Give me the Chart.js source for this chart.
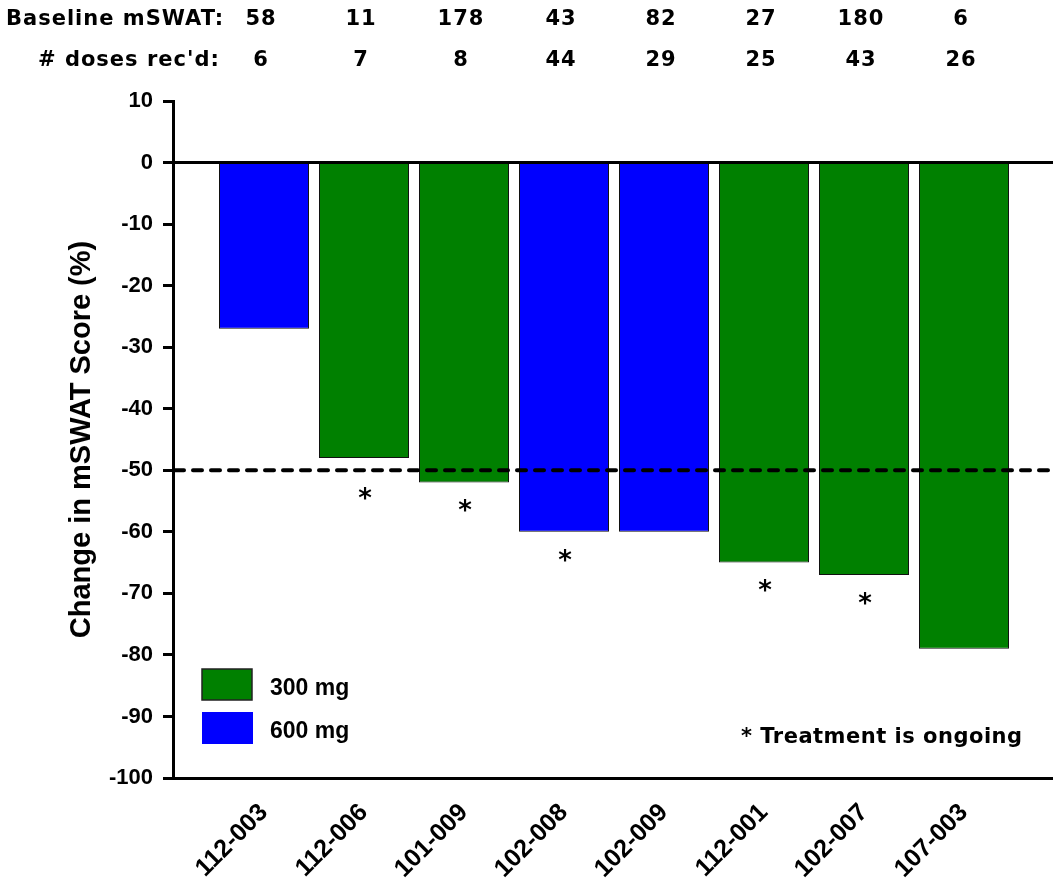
<!DOCTYPE html>
<html>
<head>
<meta charset="utf-8">
<script src="https://cdn.jsdelivr.net/npm/chart.js@4"></script>
<style>
  html, body { margin: 0; padding: 0; background: #fff; }
  #wrap { width: 1053px; height: 882px; }
</style>
</head>
<body>
<div id="wrap"><canvas id="myChart" width="1053" height="882"></canvas></div>
<script>
// patients, in plot order
const patients = ["112-003", "112-006", "101-009", "102-008", "102-009", "112-001", "102-007", "107-003"];
const changePct = [-27, -48, -52, -60, -60, -65, -67, -79];
const doseMg = [600, 300, 300, 600, 600, 300, 300, 300];
const ongoing = [false, true, true, true, false, true, true, false];
const baselineMswat = [58, 11, 178, 43, 82, 27, 180, 6];
const dosesReceived = [6, 7, 8, 44, 29, 25, 43, 26];
const yTicks = [10, 0, -10, -20, -30, -40, -50, -60, -70, -80, -90, -100];
const threshold = -50;

const doseColors = { 300: "#008000", 600: "#0000ff" };
const textFont = '"DejaVu Sans", sans-serif';
const arial = "'Liberation Sans', sans-serif";

const extras = {
  id: "extras",
  afterDatasetsDraw(chart) {
    const ctx = chart.ctx;
    const x = chart.scales.x;
    const y = chart.scales.y;
    const area = chart.chartArea;
    ctx.save();

    // zero line
    ctx.strokeStyle = "#000";
    ctx.lineWidth = 3;
    ctx.beginPath();
    ctx.moveTo(area.left, y.getPixelForValue(0));
    ctx.lineTo(area.right, y.getPixelForValue(0));
    ctx.stroke();

    // -50% threshold
    ctx.lineWidth = 4;
    ctx.lineCap = "round";
    ctx.setLineDash([9, 9]);
    ctx.beginPath();
    ctx.moveTo(area.left + 2, y.getPixelForValue(threshold));
    ctx.lineTo(area.right, y.getPixelForValue(threshold));
    ctx.stroke();
    ctx.setLineDash([]);
    ctx.lineCap = "butt";

    // asterisks under ongoing patients
    ctx.fillStyle = "#000";
    ctx.textAlign = "center";
    ctx.textBaseline = "middle";
    ctx.font = "bold 26px " + textFont;
    for (let i = 0; i < patients.length; i++) {
      if (!ongoing[i]) continue;
      const low = Math.min(changePct[i], threshold);
      ctx.fillText("*", x.getPixelForValue(i + 1) + 1, y.getPixelForValue(low) + 30);
    }

    // top rows
    ctx.font = "bold 21px " + textFont;
    ctx.letterSpacing = "1px";
    ctx.textAlign = "left";
    ctx.fillText("Baseline mSWAT:", 6, 20);
    ctx.fillText("# doses rec'd:", 38, 61);
    ctx.textAlign = "center";
    for (let i = 0; i < patients.length; i++) {
      const px = x.getPixelForValue(i + 1);
      ctx.fillText(String(baselineMswat[i]), px - 3, 20);
      ctx.fillText(String(dosesReceived[i]), px - 3, 61);
    }

    // legend
    ctx.fillStyle = doseColors[300];
    ctx.fillRect(202, 669, 50, 31);
    ctx.strokeStyle = "#222";
    ctx.lineWidth = 1.5;
    ctx.strokeRect(202, 669, 50, 31);
    ctx.fillStyle = doseColors[600];
    ctx.fillRect(202, 712, 51, 32);
    ctx.fillStyle = "#000";
    ctx.textAlign = "left";
    ctx.letterSpacing = "0px";
    ctx.font = "bold 23px " + arial;
    ctx.fillText("300 mg", 270, 689);
    ctx.fillText("600 mg", 270, 732);

    // footnote
    ctx.font = "bold 21px " + textFont;
    ctx.letterSpacing = "0.5px";
    ctx.fillText("* Treatment is ongoing", 741, 738);
    ctx.restore();
  }
};

function main() {
  const ctx = document.getElementById("myChart").getContext("2d");
  const axisFont = { family: arial, weight: "bold", size: 22 };
  new Chart(ctx, {
    type: "bar",
    data: {
      datasets: [
        {
          data: changePct.map((v, i) => ({ x: i + 1, y: v })),
          backgroundColor: doseMg.map((d) => doseColors[d]),
          borderColor: "#111",
          borderWidth: 1,
          barPercentage: 0.9,
          categoryPercentage: 1,
        },
      ],
    },
    options: {
      responsive: false,
      animation: false,
      layout: { padding: { top: 101, right: 0, bottom: 0, left: 0 } },
      plugins: { legend: { display: false }, tooltip: { enabled: false } },
      scales: {
        x: {
          type: "linear",
          offset: false,
          min: 0.09,
          max: 8.89,
          afterBuildTicks: (s) => { s.ticks = patients.map((p, i) => ({ value: i + 1 })); },
          afterFit: (s) => { s.height = 104; },
          grid: { display: false, drawTicks: false, offset: false },
          border: { display: true, color: "#000", width: 3 },
          ticks: {
            autoSkip: false,
            minRotation: 45,
            maxRotation: 45,
            padding: 20,
            color: "#000",
            font: { family: arial, weight: "bold", size: 25 },
            callback: (v) => patients[v - 1],
          },
        },
        y: {
          min: -100,
          max: 10,
          afterBuildTicks: (s) => { s.ticks = yTicks.map((v) => ({ value: v })); },
          afterFit: (s) => { s.width = 173; },
          grid: { drawOnChartArea: false, tickLength: 10, tickWidth: 3, tickColor: "#000" },
          border: { display: true, color: "#000", width: 3 },
          ticks: { padding: 10, color: "#000", font: axisFont },
          title: {
            display: true,
            text: "Change in mSWAT Score (%)",
            color: "#000",
            font: { family: arial, weight: "bold", size: 29 },
            padding: { top: 65, bottom: 0 },
          },
        },
      },
    },
    plugins: [extras],
  });
}

document.addEventListener("DOMContentLoaded", main);
</script>
</body>
</html>
